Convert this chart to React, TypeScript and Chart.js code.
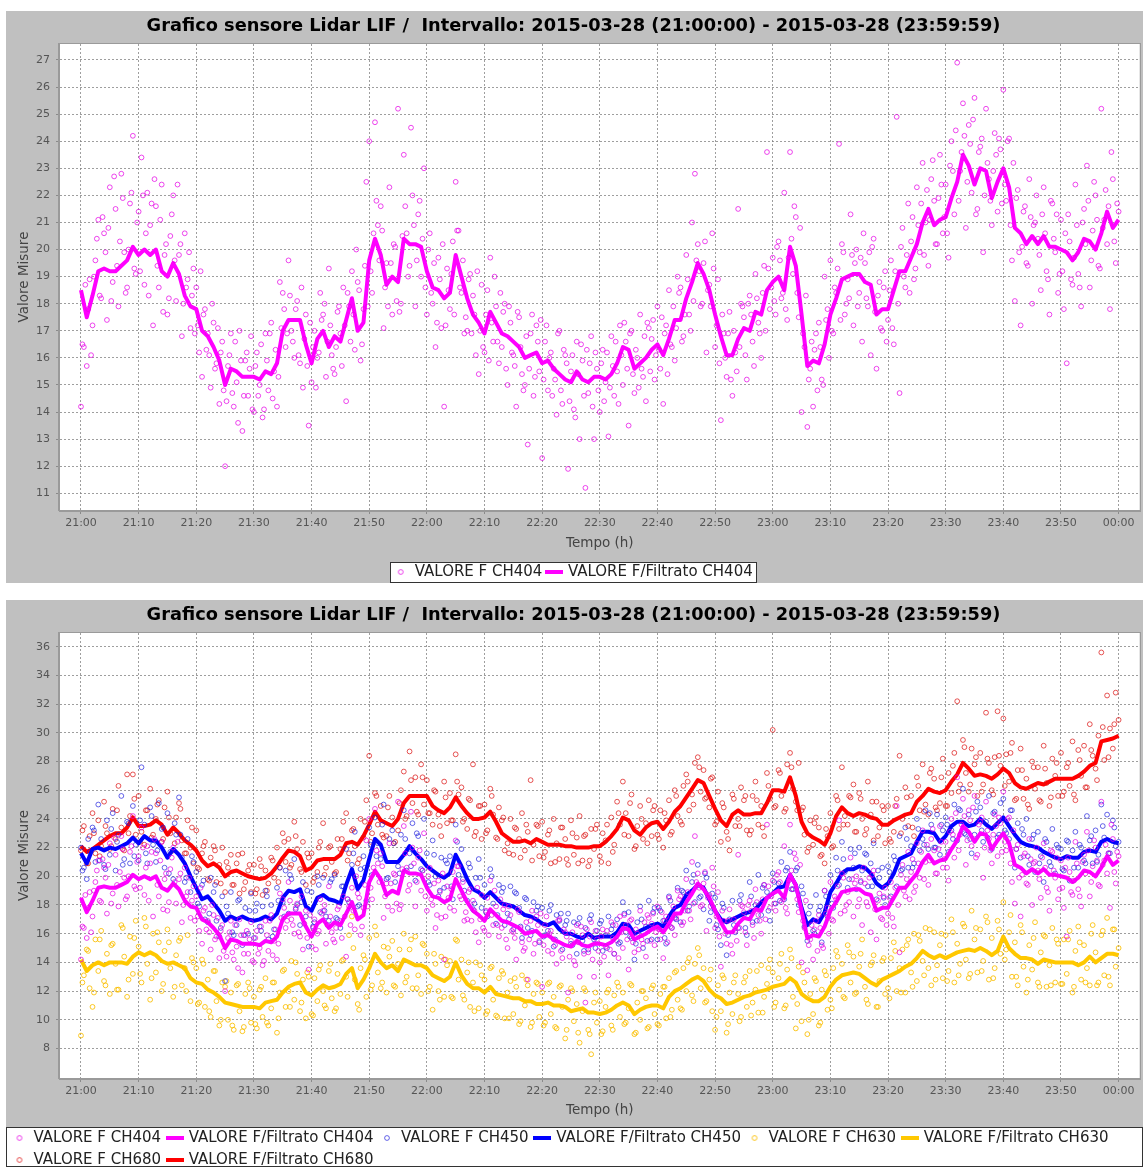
import React, { useEffect, useRef } from "react";
import { Chart, registerables } from "chart.js";

Chart.register(...registerables);

// ---------------- texts ----------------
const CHART_TITLE =
  "Grafico sensore Lidar LIF /  Intervallo: 2015-03-28 (21:00:00) - 2015-03-28 (23:59:59)";
const X_AXIS_TITLE = "Tempo (h)";
const Y_AXIS_TITLE = "Valore Misure";

// x axis: minutes after 21:00
const X_TICK_VALUES = [0, 10, 20, 30, 40, 50, 60, 70, 80, 90, 100, 110, 120, 130, 140, 150, 160, 170, 180];
const X_TICK_LABELS = ["21:00", "21:10", "21:20", "21:30", "21:40", "21:50", "22:00", "22:10", "22:20", "22:30", "22:40", "22:50", "23:00", "23:10", "23:20", "23:30", "23:40", "23:50", "00:00"];
const TOP_Y_TICKS = [11, 12, 13, 14, 15, 16, 17, 18, 19, 20, 21, 22, 23, 24, 25, 26, 27];
const BOTTOM_Y_TICKS = [8, 10, 12, 14, 16, 18, 20, 22, 24, 26, 28, 30, 32, 34, 36];

const LABEL_F404 = "VALORE F CH404";
const LABEL_FILT404 = "VALORE F/Filtrato CH404";
const LABEL_F450 = "VALORE F CH450";
const LABEL_FILT450 = "VALORE F/Filtrato CH450";
const LABEL_F630 = "VALORE F CH630";
const LABEL_FILT630 = "VALORE F/Filtrato CH630";
const LABEL_F680 = "VALORE F CH680";
const LABEL_FILT680 = "VALORE F/Filtrato CH680";

// raw samples: set A every 0.5 min from 0; set B offset by 0.25 min
const RAW_STEP_MIN = 0.5;
const RAW_B_OFFSET_MIN = 0.25;
const RAW404_B_STEP_MIN = 0.5;
const RAW_B_STEP_MIN = 1;
// filtered every 1 min
const FILT_STEP_MIN = 1;

// ---------------- data ----------------
const RAW_CH404 = [
  14.2, 16.4, 15.7, 18.9, 17.2, 19.6, 21.1, 18.2, 20.6, 17.4, 22.3, 18.8, 21.5, 17.9, 22.8, 19.9, 18.6, 21.7, 24.2, 19.1,
  21.4, 23.4, 18.7, 22.1, 20.9, 17.2, 21.6, 18.6, 22.4, 19.8, 17.6, 20.5, 22.0, 18.1, 19.8, 16.8, 20.6, 18.9, 17.1, 19.3,
  18.6, 16.2, 15.3, 17.8, 16.9, 14.9, 17.3, 15.8, 14.3, 16.6, 12.0, 15.7, 16.9, 14.2, 15.1, 17.0, 13.3, 15.9, 14.6, 16.8,
  14.0, 16.2, 15.0, 13.8, 16.9, 14.8, 17.3, 15.5, 14.2, 18.8, 18.4, 16.4, 19.6, 17.0, 16.0, 18.1, 15.8, 14.9, 17.6, 13.5,
  15.1, 17.0, 16.0, 18.4, 17.6, 15.3, 19.3, 16.1, 15.4, 17.7, 16.9, 18.6, 14.4, 17.9, 19.2, 16.3, 18.8, 15.9, 17.8, 22.5,
  24.0, 18.4, 24.7, 20.9, 21.6, 17.1, 19.5, 22.3, 17.6, 20.1, 25.2, 18.0, 23.5, 20.6, 19.4, 22.0, 17.9, 21.3, 19.0, 23.0,
  17.6, 20.6, 18.0, 16.4, 19.7, 17.1, 14.2, 19.3, 17.8, 20.3, 22.5, 20.7, 18.4, 16.9, 17.0, 19.1, 18.3, 16.1, 15.4, 18.7,
  16.2, 18.5, 19.7, 16.6, 17.9, 15.8, 16.4, 18.0, 15.0, 17.3, 16.1, 14.2, 17.5, 15.4, 15.0, 12.8, 16.9, 14.6, 17.2, 15.5,
  12.3, 16.6, 14.8, 16.2, 15.6, 13.9, 17.0, 14.3, 16.1, 11.9, 15.5, 14.1, 16.6, 13.0, 15.9, 11.2, 14.7, 16.8, 13.0, 15.6,
  14.0, 16.3, 15.1, 13.1, 16.8, 14.6, 15.5, 17.2, 15.0, 16.6, 13.5, 17.0, 14.7, 16.0, 17.6, 15.3, 14.4, 17.1, 16.7, 15.2,
  17.9, 15.6, 14.3, 17.2, 18.5, 16.4, 15.9, 19.0, 18.6, 16.8, 19.8, 17.6, 21.0, 22.8, 20.2, 17.9, 19.5, 16.2, 18.7, 20.6,
  16.4, 18.9, 13.7, 16.9, 15.3, 17.7, 14.6, 16.2, 21.5, 18.0, 17.5, 15.2, 18.3, 16.6, 19.1, 17.3, 16.0, 19.4, 23.6, 17.8,
  19.7, 17.6, 20.3, 18.2, 22.1, 17.4, 23.6, 19.1, 21.2, 17.5, 14.0, 16.4, 13.45, 15.6, 14.2, 16.9, 17.3, 15.2, 19.0, 17.8,
  19.6, 16.9, 18.4, 23.9, 20.2, 17.6, 18.9, 21.3, 17.2, 20.0, 18.4, 16.6, 19.5, 17.9, 16.1, 20.4, 15.6, 18.8, 17.0, 19.2,
  17.4, 19.6, 16.5, 24.9, 14.7, 20.8, 18.6, 21.7, 20.3, 18.9, 22.3, 19.9, 23.2, 21.0, 19.4, 22.6, 21.8, 20.2, 23.5, 20.6,
  22.4, 19.7, 24.0, 21.3, 26.9, 22.9, 25.4, 20.8, 24.6, 22.1, 25.6, 21.5, 23.8, 19.9, 25.2, 22.6, 20.9, 24.3, 21.4, 23.7,
  25.9, 21.8, 24.1, 19.6, 18.1, 22.2, 17.2, 21.4, 19.5, 22.6, 18.0, 21.0, 20.4, 18.5, 22.3, 19.2, 17.6, 21.7, 19.9, 18.4,
  21.1, 17.8, 15.8, 20.3, 18.7, 22.4, 19.1, 17.9, 21.5, 23.1, 18.6, 20.7, 22.0, 19.4, 25.2, 21.1, 20.2, 17.8, 22.6, 19.5,
  21.4,
];

const RAW_CH404_B = [
  16.5, 18.7, 17.8, 16.1, 19.0, 20.4, 18.3, 21.2, 19.9, 20.8, 18.1, 22.7, 19.4, 20.3, 21.9, 18.4, 20.0, 22.1, 19.3, 21.0,
  19.2, 22.0, 20.6, 18.3, 21.7, 22.6, 19.4, 21.1, 17.7, 20.2, 18.2, 21.3, 19.6, 22.4, 20.2, 18.0, 18.6, 19.9, 18.3, 16.9,
  17.2, 19.2, 17.6, 16.3, 16.1, 18.0, 15.6, 17.1, 16.2, 14.8, 14.4, 16.1, 14.7, 16.6, 13.6, 15.9, 14.6, 16.2, 15.6, 14.1,
  15.7, 14.6, 16.5, 14.1, 15.9, 16.9, 14.5, 16.3, 15.3, 17.1, 17.8, 16.9, 18.3, 16.6, 17.8, 16.1, 18.6, 16.7, 15.7, 17.3,
  16.4, 14.9, 16.2, 17.4, 18.0, 16.6, 17.2, 15.6, 16.4, 17.9, 15.7, 17.2, 18.4, 16.6, 17.6, 20.0, 18.5, 16.5, 19.4, 17.9,
  19.2, 20.6, 21.8, 19.6, 20.7, 18.6, 17.9, 19.5, 20.2, 18.1, 17.7, 20.5, 21.6, 19.0, 24.5, 20.9, 19.6, 21.8, 20.4, 18.6,
  20.0, 18.4, 19.5, 17.3, 18.9, 20.2, 17.2, 18.5, 19.1, 17.6, 20.7, 18.6, 19.6, 17.5, 18.9, 16.9, 17.6, 19.2, 17.0, 16.4,
  17.6, 15.9, 17.3, 19.0, 16.6, 18.4, 17.7, 15.6, 17.9, 16.2, 15.7, 17.7, 16.4, 14.8, 16.8, 15.6, 17.6, 15.3, 16.6, 17.4,
  15.2, 17.2, 16.0, 14.6, 15.2, 16.9, 14.8, 16.3, 15.8, 14.4, 16.1, 13.8, 15.4, 16.5, 14.6, 16.3, 15.8, 14.2, 16.2, 14.8,
  15.8, 14.4, 16.2, 14.9, 15.7, 16.6, 14.3, 16.1, 17.3, 15.6, 16.9, 15.4, 16.3, 14.9, 15.6, 16.8, 17.3, 15.5, 17.4, 16.1,
  16.3, 17.5, 16.9, 15.4, 16.5, 17.9, 17.1, 18.4, 16.6, 17.6, 18.9, 17.0, 18.1, 19.6, 19.2, 18.0, 20.3, 18.5, 17.9, 19.3,
  17.2, 15.8, 17.6, 16.0, 16.9, 15.2, 17.0, 15.5, 16.4, 17.9, 16.1, 18.0, 17.6, 15.7, 18.2, 16.9, 18.4, 17.0, 19.3, 18.6,
  18.1, 20.1, 19.6, 18.4, 17.8, 19.7, 20.4, 21.6, 18.4, 20.8, 16.9, 18.3, 15.2, 16.6, 16.3, 14.8, 16.4, 15.0, 17.4, 16.0,
  17.0, 18.6, 19.3, 17.4, 19.9, 18.0, 18.2, 19.8, 19.5, 17.9, 19.7, 20.6, 18.2, 19.9, 20.1, 17.7, 18.3, 17.1, 18.6, 16.6,
  18.5, 17.1, 19.2, 18.0, 20.1, 19.0, 19.8, 18.4, 21.2, 19.3, 20.9, 21.7, 19.8, 22.2, 21.1, 23.3, 20.2, 21.9, 22.4, 21.2,
  20.6, 23.1, 22.9, 24.4, 21.8, 23.6, 24.2, 22.5, 23.9, 24.8, 21.3, 23.6, 24.1, 22.0, 23.2, 21.8, 22.9, 23.5, 24.1, 21.7,
  22.4, 24.0, 20.9, 23.2, 21.9, 19.9, 20.1, 21.6, 19.4, 21.2, 20.9, 22.0, 19.8, 21.3, 20.6, 18.9, 21.8, 20.4, 21.3, 19.1,
  19.2, 20.6, 21.3, 18.9, 19.7, 20.9, 18.6, 21.0, 20.2, 21.8, 19.6, 22.5, 21.1, 19.3, 20.8, 22.2, 21.6, 23.6, 20.3, 21.7,
];

const FILT_CH404 = [
  18.5, 17.5, 18.3, 19.2, 19.3, 19.2, 19.2, 19.4, 19.6, 20.1,
  19.8, 20.0, 19.8, 20.0, 19.2, 19.0, 19.5, 19.1, 18.3, 17.9,
  17.8, 17.0, 16.8, 16.4, 15.9, 15.0, 15.6, 15.5, 15.3, 15.3,
  15.3, 15.2, 15.5, 15.4, 15.8, 17.0, 17.4, 17.4, 17.4, 16.5,
  15.8, 16.7, 17.0, 16.4, 16.8, 16.6, 17.4, 18.2, 17.0, 17.3,
  19.6, 20.4, 19.8, 18.7, 19.0, 18.8, 20.4, 20.2, 20.2, 20.1,
  19.2, 18.6, 18.5, 18.2, 18.4, 19.8, 19.0, 18.2, 17.6, 17.3,
  16.9, 17.7, 17.3, 16.9, 16.8, 16.6, 16.4, 16.0, 16.1, 16.2,
  15.8, 15.9, 15.6, 15.4, 15.2, 15.1, 15.5, 15.2, 15.1, 15.3,
  15.3, 15.2, 15.4, 15.8, 16.4, 16.3, 15.6, 15.8, 16.0, 16.3,
  16.5, 16.1, 16.7, 17.4, 17.4, 18.2, 18.8, 19.5, 19.1, 18.5,
  17.6, 16.8, 16.1, 16.1, 16.7, 17.1, 17.0, 17.7, 17.6, 18.5,
  18.8, 19.0, 18.5, 20.1, 19.4, 17.6, 15.7, 15.9, 15.8, 16.5,
  17.6, 18.2, 18.9, 19.0, 19.1, 19.1, 18.8, 18.7, 17.6, 17.8,
  17.8, 18.5, 19.2, 19.2, 19.7, 20.2, 21.0, 21.5, 20.9, 21.1,
  21.2, 21.9, 22.5, 23.5, 23.1, 22.4, 23.0, 22.9, 21.9, 22.5,
  23.0, 22.3, 20.8, 20.6, 20.2, 20.5, 20.2, 20.5, 20.1, 20.1,
  20.0, 19.9, 19.6, 19.9, 20.4, 20.3, 20.0, 20.6, 21.4, 20.8,
  21.1,
];

const RAW_CH450 = [
  22.0, 20.6, 19.8, 21.7, 23.4, 21.0, 25.0, 22.6, 20.8, 23.9, 21.5, 24.4, 20.4, 22.9, 25.6, 21.2, 23.8, 20.9, 24.9, 22.2,
  21.1, 27.6, 23.6, 20.9, 24.8, 22.2, 21.0, 25.1, 23.3, 20.6, 24.4, 21.7, 19.8, 22.9, 25.5, 21.3, 19.6, 22.6, 18.9, 21.0,
  20.3, 17.9, 19.4, 17.0, 16.8, 19.9, 18.9, 16.9, 15.8, 18.6, 12.7, 17.4, 18.9, 15.9, 16.6, 18.4, 15.2, 17.8, 16.0, 18.8,
  15.7, 18.1, 16.5, 17.9, 19.0, 15.6, 18.0, 16.3, 19.2, 20.6, 18.2, 20.4, 17.4, 19.8, 21.2, 18.0, 16.6, 19.6, 17.2, 15.1,
  18.9, 16.8, 20.0, 17.5, 19.9, 17.2, 16.9, 19.8, 20.1, 17.0, 16.4, 19.3, 21.9, 18.2, 20.8, 23.1, 17.9, 20.5, 21.4, 18.3,
  23.4, 20.1, 24.1, 22.3, 21.2, 25.0, 19.8, 22.6, 23.2, 19.6, 20.7, 22.9, 24.6, 20.4, 21.6, 23.7, 19.7, 22.8, 20.5, 24.0,
  21.6, 19.4, 22.5, 20.0, 18.6, 21.3, 19.2, 20.9, 21.4, 18.4, 23.6, 20.1, 21.9, 19.0, 18.3, 20.6, 17.7, 19.9, 21.2, 17.8,
  19.4, 17.2, 20.5, 18.1, 16.7, 19.4, 18.9, 16.6, 17.4, 19.3, 16.3, 18.8, 17.8, 15.7, 18.5, 16.4, 15.9, 18.2, 17.6, 15.4,
  17.8, 15.9, 16.2, 18.0, 15.1, 17.3, 16.9, 14.9, 16.6, 17.4, 15.3, 16.8, 14.6, 17.1, 15.5, 16.4, 14.9, 17.3, 15.6, 16.2,
  16.7, 14.8, 15.9, 17.2, 16.3, 14.6, 17.0, 15.4, 18.2, 16.1, 17.5, 15.7, 14.2, 16.8, 17.9, 15.0, 16.5, 18.3, 15.6, 17.8,
  15.6, 17.6, 16.9, 15.3, 18.6, 16.4, 17.1, 19.2, 16.8, 18.9, 20.4, 17.9, 19.6, 18.2, 20.8, 18.6, 17.7, 19.9, 16.9, 18.8,
  18.5, 16.3, 15.2, 17.8, 14.5, 17.0, 18.3, 16.1, 16.4, 18.7, 17.3, 15.9, 19.6, 16.8, 18.0, 20.1, 17.3, 19.4, 18.9, 16.9,
  20.2, 18.1, 19.5, 21.0, 18.4, 20.6, 21.7, 19.1, 20.4, 18.0, 19.3, 16.5, 15.5, 17.9, 16.2, 18.7, 17.6, 15.4, 19.0, 17.2,
  20.1, 17.8, 21.3, 19.4, 22.4, 20.3, 19.2, 21.9, 20.6, 19.1, 22.0, 20.4, 21.6, 19.3, 20.9, 22.3, 18.4, 19.9, 20.6, 18.0,
  20.7, 18.6, 21.4, 19.3, 22.8, 20.5, 23.4, 20.6, 22.1, 20.9, 24.0, 21.8, 22.6, 24.6, 21.9, 23.6, 22.0, 24.3, 21.5, 23.2,
  24.1, 21.7, 23.2, 25.0, 22.5, 24.6, 26.1, 22.9, 24.3, 21.6, 22.9, 25.2, 24.8, 22.4, 23.8, 25.6, 21.9, 24.5, 22.7, 25.1,
  25.4, 23.0, 22.6, 24.6, 20.6, 23.7, 21.3, 22.9, 24.0, 20.8, 22.6, 20.3, 23.1, 21.4, 19.6, 22.4, 21.0, 23.3, 20.2, 22.0,
  21.9, 20.4, 22.5, 19.7, 21.8, 23.1, 20.6, 22.0, 21.1, 24.2, 22.5, 20.9, 23.2, 21.5, 25.0, 22.7, 24.3, 21.6, 23.9, 22.1,
  22.4,
];

const RAW_CH450_B = [
  20.4, 22.6, 23.2, 21.1, 20.5, 23.3, 22.4, 20.8, 23.7, 21.4,
  23.9, 21.6, 24.2, 21.8, 23.4, 20.2, 23.7, 22.9, 19.9, 21.4,
  18.1, 19.7, 17.4, 19.4, 16.4, 17.9, 16.1, 18.3, 15.9, 17.6,
  17.6, 16.2, 18.6, 15.8, 18.3, 17.2, 20.1, 17.7, 18.2, 19.0,
  16.5, 19.4, 17.6, 19.6, 17.1, 19.3, 18.4, 21.6, 18.0, 20.6,
  22.2, 21.4, 23.6, 19.9, 22.3, 20.2, 22.6, 20.7, 23.0, 20.4,
  19.6, 21.5, 19.0, 21.1, 19.3, 22.4, 19.8, 20.9, 18.1, 19.9,
  17.5, 20.0, 17.3, 19.2, 17.0, 18.9, 16.5, 18.4, 16.2, 17.9,
  15.8, 17.6, 15.6, 17.4, 16.9, 15.2, 16.7, 14.8, 17.0, 15.0,
  16.9, 15.0, 16.6, 15.3, 17.4, 15.8, 15.3, 17.0, 15.5, 17.5,
  17.8, 15.7, 18.3, 17.0, 19.0, 17.6, 20.1, 18.5, 20.2, 17.5,
  16.6, 18.1, 15.9, 16.6, 18.3, 16.4, 18.6, 16.9, 19.2, 17.6,
  19.6, 18.3, 20.4, 19.1, 20.6, 18.8, 17.4, 16.0, 17.9, 18.6,
  18.1, 20.4, 21.2, 19.8, 21.6, 19.6, 21.5, 19.3, 20.4, 18.5,
  20.3, 21.1, 20.4, 22.6, 20.6, 23.3, 22.2, 24.4, 22.0, 23.6,
  23.6, 22.6, 24.7, 23.0, 22.6, 24.5, 23.2, 22.7, 24.4, 22.9,
  23.2, 24.6, 21.9, 23.3, 21.4, 22.9, 20.9, 22.6, 20.7, 22.2,
  20.5, 22.4, 20.6, 22.2, 20.9, 22.8, 21.0, 23.5, 21.6, 23.4,
];

const FILT_CH450 = [
  21.6, 20.9, 21.9, 22.0, 21.8, 22.0, 21.9, 22.1, 22.3, 22.7,
  22.3, 22.8, 22.5, 22.5, 22.0, 21.3, 21.9, 21.5, 20.9, 20.0,
  19.2, 18.4, 18.6, 18.1, 17.6, 16.9, 17.2, 17.0, 17.2, 17.0,
  16.9, 17.0, 17.2, 17.0, 17.4, 18.5, 19.0, 18.9, 19.1, 17.9,
  17.6, 18.5, 18.7, 18.4, 18.3, 18.1, 19.4, 20.5, 19.1, 19.7,
  21.2, 22.6, 22.2, 21.0, 21.0, 21.0, 21.5, 22.1, 21.6, 21.2,
  20.7, 20.4, 20.1, 19.9, 20.2, 21.5, 20.7, 19.8, 19.1, 18.9,
  18.5, 18.9, 18.5, 18.1, 18.0, 17.9, 17.6, 17.3, 17.2, 17.0,
  16.7, 16.6, 16.8, 16.3, 16.0, 16.0, 15.8, 15.7, 16.0, 15.7,
  15.8, 15.8, 15.8, 16.1, 16.7, 16.6, 16.0, 16.2, 16.4, 16.6,
  16.7, 16.5, 17.2, 17.8, 18.0, 18.7, 19.0, 19.4, 19.2, 18.4,
  17.6, 17.0, 16.8, 17.0, 17.2, 17.4, 17.5, 17.7, 18.2, 18.5,
  18.8, 19.2, 19.3, 20.1, 19.4, 17.8, 16.6, 17.0, 16.8, 17.5,
  18.9, 19.5, 20.2, 20.5, 20.5, 20.7, 20.6, 20.2, 19.5, 19.2,
  19.5, 20.2, 21.2, 21.4, 21.6, 22.4, 23.1, 23.1, 23.0, 22.4,
  22.8, 23.5, 23.8, 23.8, 23.5, 23.6, 24.0, 23.6, 23.3, 23.7,
  24.1, 23.5, 22.9, 22.4, 22.2, 22.1, 22.0, 21.7, 21.5, 21.3,
  21.2, 21.4, 21.3, 21.3, 21.7, 21.8, 21.7, 22.4, 22.6, 22.4,
  22.3,
];

const RAW_CH630 = [
  8.9, 13.1, 14.9, 12.2, 10.9, 15.6, 13.4, 16.2, 12.7, 14.6, 11.8, 15.3, 13.9, 12.1, 16.6, 14.4, 11.6, 15.8, 13.2, 16.9,
  15.1, 12.6, 17.1, 13.9, 11.4, 16.0, 13.3, 15.4, 12.0, 14.8, 16.3, 13.6, 11.6, 14.5, 15.5, 12.4, 13.6, 15.9, 11.3, 14.0,
  13.6, 11.2, 14.2, 10.9, 12.8, 10.2, 13.4, 11.3, 9.6, 12.6, 12.3, 10.0, 11.9, 9.3, 12.4, 10.6, 9.2, 11.8, 12.6, 9.8,
  11.6, 9.4, 12.1, 10.2, 12.9, 9.6, 10.8, 12.6, 9.1, 11.9, 13.4, 10.9, 12.0, 14.1, 11.4, 13.2, 10.6, 12.8, 10.1, 13.0,
  10.4, 12.9, 11.3, 13.8, 12.0, 10.8, 13.4, 11.5, 10.6, 13.2, 11.8, 14.2, 13.0, 15.9, 17.2, 12.8, 11.1, 13.6, 14.5, 11.6,
  15.7, 12.4, 16.5, 13.3, 12.2, 15.1, 11.9, 14.4, 15.5, 12.3, 13.9, 11.7, 16.0, 13.0, 14.9, 12.2, 15.8, 13.1, 11.8, 15.2,
  14.6, 12.3, 10.7, 13.9, 12.0, 14.4, 11.6, 13.8, 14.1, 11.5, 15.6, 12.8, 14.2, 11.4, 13.3, 10.9, 12.6, 14.0, 10.8, 13.1,
  12.8, 10.6, 13.6, 11.4, 10.3, 12.9, 13.4, 10.1, 11.9, 12.7, 10.4, 12.3, 9.7, 13.1, 11.0, 12.4, 9.5, 11.8, 12.6, 10.2,
  11.9, 9.8, 12.5, 10.4, 11.6, 9.4, 12.3, 10.9, 8.7, 11.4, 12.2, 9.9, 11.1, 8.4, 10.6, 12.0, 9.3, 7.6, 11.2, 9.8,
  11.3, 9.2, 10.9, 12.1, 9.6, 11.7, 12.6, 10.2, 11.9, 9.8, 10.8, 12.4, 9.0, 11.2, 10.0, 12.0, 11.5, 9.5, 12.2, 10.4,
  9.7, 11.8, 12.3, 10.1, 12.9, 10.7, 13.3, 11.4, 10.8, 13.6, 12.0, 14.3, 11.7, 13.9, 15.0, 12.2, 13.6, 11.3, 12.8, 10.6,
  9.3, 12.4, 10.6, 12.9, 9.1, 11.9, 10.4, 13.1, 11.8, 10.2, 12.6, 10.9, 13.4, 11.2, 12.1, 10.5, 13.8, 11.6, 12.5, 14.2,
  13.3, 11.2, 12.9, 14.6, 10.8, 13.5, 14.9, 11.6, 9.4, 13.7, 9.9, 12.6, 9.0, 11.8, 10.4, 12.7, 9.6, 12.1, 13.4, 10.7,
  11.4, 13.6, 14.8, 12.1, 13.9, 11.5, 15.2, 12.6, 14.4, 11.9, 13.7, 15.6, 12.3, 11.1, 13.8, 14.5, 10.9, 12.7, 14.1, 11.8,
  12.2, 14.3, 15.4, 12.0, 13.6, 14.9, 11.9, 15.6, 13.3, 16.0, 12.7, 15.5, 14.1, 16.4, 13.6, 12.4, 16.1, 13.8, 15.2, 12.9,
  15.9, 13.4, 17.0, 12.6, 15.3, 13.9, 16.7, 14.2, 12.9, 17.6, 15.6, 13.3, 16.3, 14.1, 17.2, 12.8, 15.7, 13.6, 16.9, 14.6,
  18.2, 14.9, 16.1, 13.0, 15.4, 12.4, 16.6, 13.7, 11.9, 15.2, 13.5, 16.8, 12.6, 14.7, 15.9, 12.3, 13.8, 16.4, 12.6, 15.3,
  12.5, 15.6, 13.2, 16.2, 11.9, 14.8, 16.5, 12.8, 15.2, 13.6, 12.4, 16.6, 14.7, 12.6, 15.9, 13.1, 17.1, 12.4, 16.3, 13.7,
  15.0,
];

const RAW_CH630_B = [
  12.6, 14.8, 11.9, 15.6, 12.4, 15.2, 12.1, 16.4, 12.8, 15.7,
  13.2, 16.5, 12.9, 16.1, 12.5, 15.4, 12.3, 15.7, 12.0, 14.3,
  11.1, 13.9, 10.6, 13.4, 10.0, 12.7, 9.6, 12.5, 9.5, 12.2,
  9.7, 12.3, 9.8, 12.6, 10.1, 13.5, 10.9, 14.0, 11.2, 13.3,
  10.3, 13.5, 11.0, 13.9, 10.8, 14.1, 11.6, 15.0, 10.7, 14.2,
  12.1, 15.9, 12.6, 15.0, 12.4, 14.9, 12.6, 15.6, 12.2, 15.3,
  12.0, 14.6, 11.4, 14.2, 11.6, 15.5, 11.7, 14.0, 10.6, 13.8,
  10.4, 13.7, 10.2, 13.2, 10.1, 12.9, 9.9, 12.8, 9.8, 12.5,
  9.6, 12.6, 9.5, 12.4, 9.3, 12.0, 9.1, 12.2, 9.0, 11.9,
  9.0, 11.9, 9.3, 12.3, 9.7, 12.5, 9.1, 12.0, 9.4, 12.4,
  9.6, 12.3, 10.2, 13.4, 10.7, 14.0, 11.3, 14.5, 11.2, 13.5,
  10.2, 13.1, 9.7, 12.6, 9.9, 13.0, 10.3, 13.4, 10.5, 13.6,
  10.9, 13.9, 11.0, 14.3, 11.1, 13.3, 10.0, 12.9, 9.8, 13.1,
  10.8, 14.4, 11.6, 14.7, 11.8, 14.6, 11.4, 14.0, 10.9, 14.3,
  11.5, 14.8, 11.9, 15.2, 12.3, 15.9, 13.1, 16.3, 12.8, 16.0,
  12.7, 16.1, 13.1, 16.5, 13.2, 16.4, 13.4, 16.8, 12.9, 16.3,
  14.2, 17.3, 13.0, 16.1, 12.8, 15.7, 12.3, 15.8, 12.4, 15.6,
  12.5, 15.6, 12.3, 15.4, 12.6, 16.0, 12.4, 16.2, 13.0, 16.3,
];

const FILT_CH630 = [
  14.2, 13.4, 13.8, 14.0, 13.8, 14.0, 14.0, 14.0, 13.9, 14.4,
  14.7, 14.5, 14.7, 14.5, 14.1, 13.9, 14.0, 13.8, 13.6, 12.9,
  12.6, 12.5, 12.1, 11.9, 11.6, 11.2, 11.1, 11.0, 10.9, 10.9,
  10.9, 10.8, 11.2, 11.3, 11.4, 11.9, 12.3, 12.5, 12.6, 11.9,
  11.7, 12.1, 12.4, 12.2, 12.3, 12.5, 13.2, 13.6, 12.2, 12.8,
  13.6, 14.6, 14.0, 13.6, 13.8, 13.4, 14.2, 14.0, 13.8, 13.8,
  13.6, 13.1, 12.9, 12.7, 13.0, 14.0, 13.1, 12.5, 12.2, 12.2,
  11.9, 12.3, 11.8, 11.7, 11.6, 11.5, 11.5, 11.3, 11.3, 11.1,
  11.1, 11.2, 11.0, 11.0, 10.9, 10.6, 10.7, 10.8, 10.5, 10.5,
  10.4, 10.5, 10.7, 11.0, 11.2, 11.0, 10.4, 10.7, 10.9, 11.0,
  11.0, 10.8, 11.6, 12.0, 12.2, 12.5, 12.8, 13.0, 12.7, 12.1,
  11.7, 11.5, 11.1, 11.2, 11.4, 11.6, 11.7, 11.9, 12.0, 12.1,
  12.3, 12.4, 12.5, 12.9, 12.6, 11.8, 11.5, 11.3, 11.3, 11.6,
  12.3, 12.8, 13.1, 13.2, 13.3, 13.2, 12.9, 12.6, 12.4, 12.8,
  13.0, 13.2, 13.4, 13.7, 13.9, 14.3, 14.8, 14.5, 14.3, 14.5,
  14.3, 14.5, 14.7, 14.8, 14.9, 14.8, 15.0, 14.8, 14.5, 14.8,
  15.8, 15.0, 14.6, 14.3, 14.3, 14.2, 13.9, 14.2, 14.1, 14.0,
  14.0, 14.0, 14.0, 13.8, 14.0, 14.4, 14.0, 14.3, 14.6, 14.6,
  14.5,
];

const RAW_CH680 = [
  21.8, 23.5, 20.9, 22.8, 24.4, 21.6, 23.9, 22.1, 25.2, 23.0, 21.9, 24.7, 22.6, 26.3, 23.4, 21.8, 27.1, 24.2, 27.1, 22.9,
  25.6, 23.1, 22.2, 24.6, 26.1, 22.9, 24.0, 25.3, 22.4, 24.8, 25.9, 23.0, 21.8, 24.1, 25.1, 22.5, 21.6, 23.9, 22.0, 20.9,
  23.2, 20.5, 21.6, 22.4, 19.8, 21.3, 22.1, 19.6, 20.8, 22.0, 18.9, 20.6, 21.5, 19.4, 20.9, 18.8, 21.6, 19.6, 20.4, 18.9,
  20.8, 19.1, 21.2, 18.7, 20.4, 19.5, 21.3, 19.9, 22.0, 20.6, 23.0, 21.0, 22.6, 20.8, 23.8, 21.9, 20.5, 22.4, 19.4, 21.3,
  21.6, 19.9, 20.3, 22.4, 23.7, 20.6, 22.0, 21.0, 20.2, 22.6, 21.9, 23.8, 24.4, 21.6, 23.2, 22.1, 20.9, 24.0, 22.7, 25.3,
  28.4, 23.0, 25.8, 23.6, 24.9, 22.7, 22.8, 25.6, 24.1, 22.4, 23.2, 26.0, 27.3, 24.2, 28.7, 25.1, 26.9, 24.3, 27.8, 25.0,
  26.7, 24.4, 23.6, 25.9, 24.3, 22.8, 26.6, 23.7, 25.8, 23.9, 28.5, 25.7, 26.2, 24.0, 23.3, 25.3, 27.8, 23.1, 24.9, 22.6,
  25.0, 23.2, 26.1, 24.3, 22.7, 24.8, 23.9, 21.8, 22.3, 24.0, 21.5, 23.3, 22.6, 24.4, 21.8, 23.1, 26.7, 22.2, 23.6, 21.4,
  23.8, 21.7, 22.9, 20.9, 24.0, 22.3, 21.2, 23.4, 22.6, 20.8, 23.9, 21.5, 22.7, 24.2, 21.1, 22.9, 20.7, 23.3, 21.9, 23.6,
  21.4, 23.0, 22.5, 20.9, 24.1, 22.2, 25.2, 23.6, 26.6, 24.4, 22.8, 25.7, 21.9, 23.5, 24.9, 22.6, 23.7, 25.3, 22.8, 24.9,
  22.9, 24.6, 22.0, 23.9, 25.3, 23.1, 26.0, 24.2, 23.8, 26.3, 27.1, 24.6, 25.7, 27.9, 28.3, 25.9, 27.4, 25.5, 24.8, 26.9,
  23.6, 25.9, 22.4, 24.8, 23.1, 21.8, 25.7, 23.5, 24.0, 26.2, 25.3, 23.2, 22.9, 25.6, 26.6, 23.6, 24.9, 22.8, 27.2, 25.4,
  30.2, 24.9, 27.4, 25.6, 24.5, 27.8, 28.6, 26.1, 25.2, 27.9, 24.6, 22.9, 21.7, 23.9, 22.2, 24.1, 23.4, 21.5, 20.9, 22.8,
  24.4, 22.1, 25.6, 23.3, 27.6, 24.2, 23.6, 25.5, 26.4, 23.1, 25.8, 24.0, 22.9, 26.6, 24.3, 22.5, 25.2, 23.4, 24.9, 22.3,
  24.9, 22.4, 23.1, 25.4, 28.4, 24.0, 26.2, 23.5, 25.6, 22.8, 26.9, 24.6, 27.8, 25.0, 24.3, 27.5, 26.8, 24.6, 25.1, 28.2,
  24.9, 27.2, 25.8, 28.6, 32.2, 26.4, 29.5, 27.2, 25.9, 28.9, 27.8, 25.6, 28.6, 26.4, 31.4, 27.9, 26.0, 28.3, 31.5, 27.7,
  31.0, 28.5, 26.6, 29.3, 25.3, 27.4, 28.9, 25.4, 26.8, 24.7, 28.0, 26.1, 27.6, 25.2, 29.1, 26.5, 24.9, 28.2, 27.0, 25.6,
  28.6, 25.9, 27.6, 26.3, 29.4, 25.3, 28.8, 27.0, 29.1, 26.2, 30.6, 28.4, 27.5, 29.8, 35.6, 28.1, 32.6, 30.3, 28.9, 32.8,
  30.9,
];

const RAW_CH680_B = [
  23.2, 20.9, 23.0, 21.4, 23.5, 22.1, 24.6, 21.9, 23.0, 25.4,
  22.4, 24.6, 22.7, 25.0, 22.6, 24.1, 22.3, 24.7, 21.6, 23.4,
  20.6, 22.1, 19.7, 21.8, 19.5, 21.0, 19.4, 21.5, 19.1, 20.8,
  18.8, 20.7, 19.0, 21.1, 19.6, 22.4, 20.6, 22.8, 20.3, 21.6,
  19.6, 22.0, 20.1, 22.1, 20.3, 22.6, 21.1, 23.3, 21.2, 23.8,
  22.4, 25.6, 22.9, 24.8, 22.3, 25.1, 24.0, 26.7, 24.5, 26.9,
  24.4, 26.0, 23.5, 25.5, 23.9, 26.6, 23.8, 25.4, 22.8, 24.9,
  23.0, 25.6, 22.6, 24.1, 21.6, 23.4, 21.3, 23.6, 21.1, 23.5,
  21.3, 23.2, 21.0, 23.4, 21.2, 23.0, 20.9, 22.8, 21.1, 23.3,
  21.0, 23.6, 21.7, 24.4, 22.9, 25.1, 22.1, 24.0, 22.3, 24.6,
  22.6, 24.4, 22.9, 25.6, 23.6, 26.6, 25.0, 27.6, 25.4, 26.8,
  23.8, 25.1, 22.6, 25.4, 23.5, 25.6, 23.2, 25.3, 23.4, 26.3,
  24.8, 27.2, 24.7, 27.6, 24.6, 24.8, 22.0, 23.7, 21.4, 23.3,
  22.0, 25.3, 23.6, 25.6, 23.1, 25.4, 23.3, 25.2, 22.8, 24.6,
  22.6, 24.9, 23.0, 25.5, 23.4, 26.3, 24.5, 27.2, 24.8, 26.9,
  24.9, 27.7, 25.9, 29.0, 26.4, 28.3, 25.9, 28.2, 25.7, 28.4,
  26.3, 28.6, 25.4, 27.4, 25.0, 27.6, 25.3, 27.5, 25.5, 27.9,
  25.6, 27.9, 25.7, 28.1, 26.2, 28.8, 26.7, 30.4, 28.3, 30.6,
];

const FILT_CH680 = [
  22.1, 21.7, 21.9, 22.2, 22.5, 22.8, 23.0, 23.0, 23.4, 24.1,
  23.5, 23.5, 23.6, 23.9, 23.6, 22.9, 23.4, 23.0, 22.5, 22.2,
  21.8, 21.1, 20.7, 20.9, 20.6, 20.0, 20.3, 20.4, 20.2, 20.0,
  19.9, 19.8, 19.9, 20.2, 20.7, 21.3, 21.8, 21.7, 21.4, 20.4,
  20.6, 21.1, 21.2, 21.2, 21.2, 21.5, 22.3, 22.4, 22.2, 22.8,
  23.6, 24.5, 23.9, 23.7, 23.5, 24.0, 25.1, 25.6, 25.6, 25.6,
  25.6, 24.9, 24.6, 24.4, 24.8, 25.5, 24.9, 24.4, 24.0, 24.0,
  24.1, 24.5, 23.8, 23.0, 22.7, 22.4, 22.4, 22.5, 22.3, 22.6,
  22.4, 22.2, 22.2, 22.2, 22.1, 22.1, 22.0, 22.0, 22.0, 22.1,
  22.1, 22.4, 22.8, 23.3, 24.1, 23.9, 23.2, 22.9, 23.4, 23.7,
  23.8, 23.3, 23.8, 24.5, 24.9, 25.5, 26.1, 26.7, 26.5, 25.6,
  24.7, 23.9, 23.5, 24.3, 24.6, 24.3, 24.3, 24.4, 24.4, 25.1,
  26.0, 26.0, 25.9, 26.9, 25.6, 23.8, 23.0, 22.7, 22.5, 22.2,
  23.0, 24.2, 24.8, 24.4, 24.2, 24.4, 24.3, 24.1, 24.0, 23.6,
  23.6, 23.9, 24.1, 24.3, 24.4, 25.2, 25.6, 26.1, 25.9, 25.8,
  26.0, 26.6, 27.1, 27.9, 27.5, 27.0, 27.1, 27.0, 26.8, 27.1,
  27.5, 27.2, 26.5, 26.2, 26.1, 26.3, 26.5, 26.4, 26.6, 26.8,
  26.8, 26.8, 26.8, 27.0, 27.3, 27.7, 27.9, 29.4, 29.5, 29.6,
  29.8,
];

// ---------------- styling constants ----------------
const FONT = "'DejaVu Sans', Verdana, sans-serif";
const PANEL_BG = "#c0c0c0";
const GRID_COLOR = "rgba(125,125,125,0.75)";
const TICK_COLOR = "#555555";
const AXIS_TITLE_COLOR = "#444444";
const LEGEND_TEXT_COLOR = "#222222";
const X_MIN = -3.64;
const X_MAX = 183.64;

const C_404 = "#ff00ff";
const C_450 = "#0000ff";
const C_630 = "#ffc800";
const C_680 = "#ff0000";
const P_404 = "rgba(230,0,230,0.72)";
const P_450 = "rgba(20,20,220,0.65)";
const P_630 = "rgba(250,190,0,0.85)";
const P_680 = "rgba(220,20,20,0.72)";

type Part = { values: number[]; step: number; offset: number };
type Series = { label: string; kind: "raw" | "filt"; parts: Part[]; color: string };

const S_RAW404: Series = {
  label: LABEL_F404, kind: "raw", color: P_404,
  parts: [
    { values: RAW_CH404, step: RAW_STEP_MIN, offset: 0 },
    { values: RAW_CH404_B, step: RAW404_B_STEP_MIN, offset: RAW_B_OFFSET_MIN },
  ],
};
const S_FILT404: Series = { label: LABEL_FILT404, kind: "filt", color: C_404, parts: [{ values: FILT_CH404, step: FILT_STEP_MIN, offset: 0 }] };
const S_RAW450: Series = {
  label: LABEL_F450, kind: "raw", color: P_450,
  parts: [
    { values: RAW_CH450, step: RAW_STEP_MIN, offset: 0 },
    { values: RAW_CH450_B, step: RAW_B_STEP_MIN, offset: RAW_B_OFFSET_MIN },
  ],
};
const S_FILT450: Series = { label: LABEL_FILT450, kind: "filt", color: C_450, parts: [{ values: FILT_CH450, step: FILT_STEP_MIN, offset: 0 }] };
const S_RAW630: Series = {
  label: LABEL_F630, kind: "raw", color: P_630,
  parts: [
    { values: RAW_CH630, step: RAW_STEP_MIN, offset: 0 },
    { values: RAW_CH630_B, step: RAW_B_STEP_MIN, offset: RAW_B_OFFSET_MIN },
  ],
};
const S_FILT630: Series = { label: LABEL_FILT630, kind: "filt", color: C_630, parts: [{ values: FILT_CH630, step: FILT_STEP_MIN, offset: 0 }] };
const S_RAW680: Series = {
  label: LABEL_F680, kind: "raw", color: P_680,
  parts: [
    { values: RAW_CH680, step: RAW_STEP_MIN, offset: 0 },
    { values: RAW_CH680_B, step: RAW_B_STEP_MIN, offset: RAW_B_OFFSET_MIN },
  ],
};
const S_FILT680: Series = { label: LABEL_FILT680, kind: "filt", color: C_680, parts: [{ values: FILT_CH680, step: FILT_STEP_MIN, offset: 0 }] };

const TOP_SERIES: Series[] = [S_RAW404, S_FILT404];
const BOTTOM_SERIES: Series[] = [S_RAW404, S_FILT404, S_RAW450, S_FILT450, S_RAW630, S_FILT630, S_RAW680, S_FILT680];

type Spec = {
  series: Series[];
  yMin: number;
  yMax: number;
  yTicks: number[];
  xAxisHeight: number;
  xTitlePadBottom: number;
  legendPadding: number;
  legendAlign: "start" | "center";
  layoutBottom: number;
  fullLegend: boolean;
};

const TOP_SPEC: Spec = {
  series: TOP_SERIES,
  yMin: 10.383,
  yMax: 27.59,
  yTicks: TOP_Y_TICKS,
  xAxisHeight: 49.5,
  xTitlePadBottom: 8.4,
  legendPadding: 5,
  legendAlign: "center",
  layoutBottom: -6.5,
  fullLegend: false,
};

const BOTTOM_SPEC: Spec = {
  series: BOTTOM_SERIES,
  yMin: 5.944,
  yMax: 36.955,
  yTicks: BOTTOM_Y_TICKS,
  xAxisHeight: 45.5,
  xTitlePadBottom: 5.4,
  legendPadding: 7,
  legendAlign: "start",
  layoutBottom: -10.5,
  fullLegend: true,
};

function makeCircleImg(color: string) {
  const c = document.createElement("canvas");
  c.width = 8;
  c.height = 8;
  const g = c.getContext("2d")!;
  g.strokeStyle = color;
  g.lineWidth = 1;
  g.beginPath();
  g.arc(4, 4, 2.4, 0, Math.PI * 2);
  g.stroke();
  return c;
}

function makeBarImg(color: string) {
  const c = document.createElement("canvas");
  c.width = 18;
  c.height = 4;
  const g = c.getContext("2d")!;
  g.fillStyle = color;
  g.fillRect(0, 0, 18, 4);
  return c;
}

function buildConfig(spec: Spec): any {
  const imgs = spec.series.map((s) => (s.kind === "raw" ? makeCircleImg(s.color) : makeBarImg(s.color)));

  const datasets = spec.series.map((s) => {
    const data: { x: number; y: number }[] = [];
    s.parts.forEach((p) => p.values.forEach((v, i) => data.push({ x: p.offset + i * p.step, y: v })));
    if (s.kind === "raw") {
      return {
        type: "scatter",
        label: s.label,
        data,
        showLine: false,
        pointStyle: "circle",
        pointRadius: 2.4,
        pointHoverRadius: 2.4,
        pointBorderWidth: 1,
        pointBackgroundColor: "rgba(0,0,0,0)",
        pointBorderColor: s.color,
        borderColor: s.color,
        backgroundColor: "rgba(0,0,0,0)",
      };
    }
    return {
      type: "line",
      label: s.label,
      data,
      borderColor: s.color,
      backgroundColor: s.color,
      borderWidth: 4,
      pointRadius: 0,
      pointHoverRadius: 0,
      tension: 0,
      fill: false,
      borderJoinStyle: "round",
    };
  });

  const panelPlugin = {
    id: "panelBackground",
    beforeDraw(chart: any) {
      const { ctx, chartArea: a, width, height } = chart;
      ctx.save();
      ctx.fillStyle = PANEL_BG;
      ctx.fillRect(0, 0, width, height);
      ctx.fillStyle = "#ffffff";
      ctx.fillRect(a.left, a.top, a.right - a.left, a.bottom - a.top);
      const hb = chart.legend && chart.legend.legendHitBoxes;
      if (hb && hb.length) {
        let l = Infinity, r = -Infinity, t = Infinity, b = -Infinity;
        hb.forEach((h: any) => {
          l = Math.min(l, h.left);
          r = Math.max(r, h.left + h.width);
          t = Math.min(t, h.top);
          b = Math.max(b, h.top + h.height);
        });
        let x0, x1, y0, y1;
        if (spec.fullLegend) {
          x0 = 0.5;
          x1 = width - 0.5;
          y0 = Math.round(t - 4) + 0.5;
          y1 = height - 0.5;
        } else {
          x0 = Math.round(l - 4) + 0.5;
          x1 = Math.round(r + 3) + 0.5;
          y0 = Math.round(t - 2.5) + 0.5;
          y1 = Math.round(b + 2.5) + 0.5;
        }
        ctx.fillStyle = "#ffffff";
        ctx.fillRect(x0, y0, x1 - x0, y1 - y0);
        ctx.strokeStyle = "#333333";
        ctx.lineWidth = 1;
        ctx.strokeRect(x0, y0, x1 - x0, y1 - y0);
      }
      ctx.restore();
    },
    afterDraw(chart: any) {
      const { ctx, chartArea: a } = chart;
      ctx.save();
      ctx.strokeStyle = "#9a9a9a";
      ctx.lineWidth = 1;
      ctx.strokeRect(Math.round(a.left) - 0.5, Math.round(a.top) - 0.5, Math.round(a.right - a.left) + 1, Math.round(a.bottom - a.top) + 1);
      ctx.fillStyle = "#9a9a9a";
      ctx.fillRect(Math.round(a.left) - 2, Math.round(a.top) - 1, 1, Math.round(a.bottom - a.top) + 2);
      ctx.fillRect(Math.round(a.left) - 1, Math.round(a.bottom) + 1, Math.round(a.right - a.left) + 2, 1);
      ctx.restore();
    },
  };

  return {
    type: "scatter",
    data: { datasets },
    options: {
      responsive: false,
      maintainAspectRatio: false,
      animation: false,
      events: [],
      devicePixelRatio: 1,
      layout: { padding: { left: 0, right: 2, top: 0, bottom: spec.layoutBottom } },
      plugins: {
        title: {
          display: true,
          text: CHART_TITLE,
          color: "#000000",
          font: { family: FONT, size: 17.8, weight: "bold", lineHeight: 1.2 },
          padding: { top: 4.3, bottom: 7.34 },
        },
        legend: {
          display: true,
          position: "bottom",
          align: spec.legendAlign,
          labels: {
            usePointStyle: true,
            boxWidth: 13,
            boxHeight: 13,
            padding: spec.legendPadding,
            color: LEGEND_TEXT_COLOR,
            font: { family: FONT, size: 15 },
            generateLabels: (chart: any) =>
              chart.data.datasets.map((ds: any, i: number) => ({
                text: ds.label,
                datasetIndex: i,
                pointStyle: imgs[i],
                fillStyle: "rgba(0,0,0,0)",
                strokeStyle: "rgba(0,0,0,0)",
                lineWidth: 0,
                hidden: false,
                fontColor: LEGEND_TEXT_COLOR,
              })),
          },
        },
        tooltip: { enabled: false },
      },
      scales: {
        x: {
          type: "linear",
          position: "bottom",
          min: X_MIN,
          max: X_MAX,
          afterBuildTicks: (s: any) => {
            s.ticks = X_TICK_VALUES.map((v) => ({ value: v }));
          },
          afterFit: (s: any) => {
            s.height = spec.xAxisHeight;
          },
          ticks: {
            autoSkip: false,
            maxRotation: 0,
            minRotation: 0,
            padding: 3,
            color: TICK_COLOR,
            font: { family: FONT, size: 11 },
            callback: (_v: any, i: number) => X_TICK_LABELS[i],
          },
          grid: { color: GRID_COLOR, lineWidth: 1, drawTicks: true, tickLength: 4, tickColor: "#8a8a8a", tickWidth: 1 },
          border: { display: false, dash: [2, 2] },
          title: {
            display: true,
            text: X_AXIS_TITLE,
            color: AXIS_TITLE_COLOR,
            font: { family: FONT, size: 13.5 },
            padding: { top: 0, bottom: spec.xTitlePadBottom },
          },
        },
        y: {
          type: "linear",
          position: "left",
          min: spec.yMin,
          max: spec.yMax,
          afterBuildTicks: (s: any) => {
            s.ticks = spec.yTicks.map((v) => ({ value: v }));
          },
          afterFit: (s: any) => {
            s.width = 54;
          },
          ticks: {
            autoSkip: false,
            padding: 6,
            color: TICK_COLOR,
            font: { family: FONT, size: 11 },
            callback: (v: any) => String(v),
          },
          grid: { color: GRID_COLOR, lineWidth: 1, drawTicks: true, tickLength: 4, tickColor: "#8a8a8a", tickWidth: 1 },
          border: { display: false, dash: [2, 2] },
          title: {
            display: true,
            text: Y_AXIS_TITLE,
            color: AXIS_TITLE_COLOR,
            font: { family: FONT, size: 13.5 },
            padding: { top: 9.9, bottom: 0 },
          },
        },
      },
    },
    plugins: [panelPlugin],
  };
}

function LidarChart(props: { left: number; top: number; width: number; height: number; spec: Spec }) {
  const ref = useRef<HTMLCanvasElement | null>(null);
  useEffect(() => {
    if (!ref.current) return;
    const chart = new Chart(ref.current, buildConfig(props.spec));
    return () => chart.destroy();
  }, []);
  return (
    <canvas
      ref={ref}
      width={props.width}
      height={props.height}
      style={{ position: "absolute", left: props.left, top: props.top, width: props.width, height: props.height, display: "block" }}
    />
  );
}

export default function App() {
  return (
    <div style={{ position: "absolute", left: 0, top: 0, width: 1143, height: 1167, background: "#ffffff", overflow: "hidden" }}>
      <LidarChart left={6} top={11} width={1137} height={572} spec={TOP_SPEC} />
      <LidarChart left={6} top={600} width={1137} height={567} spec={BOTTOM_SPEC} />
    </div>
  );
}
